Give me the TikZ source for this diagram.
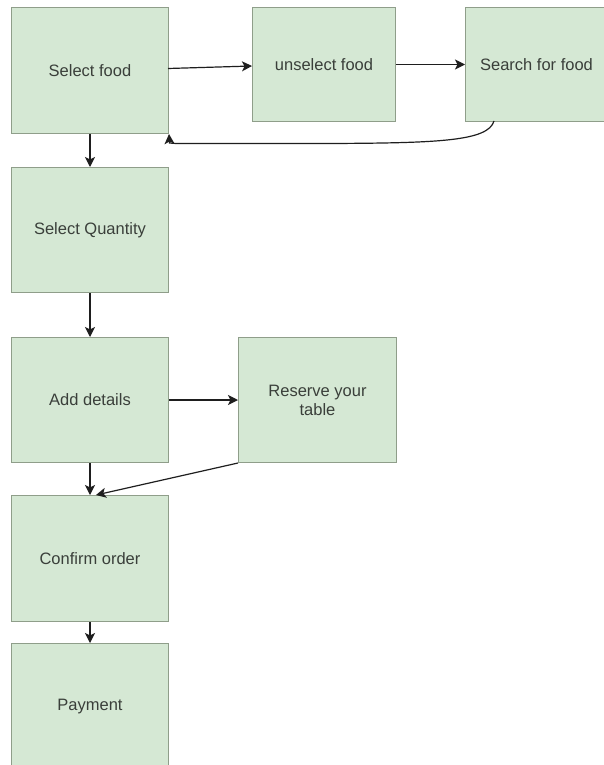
\documentclass[tikz,border=0pt]{standalone}
\usepackage{fontspec}
\setmainfont{Liberation Sans}
\usetikzlibrary{arrows.meta}
\definecolor{boxfill}{HTML}{D5E8D4}
\definecolor{boxline}{HTML}{8F9E8A}
\definecolor{txt}{HTML}{3A3F3A}
\definecolor{wire}{HTML}{1E1E1E}
\begin{document}
\begin{tikzpicture}[x=1pt,y=-1pt,
  stepbox/.style={draw=boxline, line width=1pt, fill=boxfill, anchor=north west,
    inner sep=0pt, align=center, text=txt, font=\fontsize{16.5}{19}\selectfont},
  arr/.style={draw=wire, line width=1.2pt, -{Stealth[length=10pt,width=10pt,inset=2.5pt]}}]
\useasboundingbox (0,0) rectangle (603,765);
\fill[white] (0,0) rectangle (603,765);

% process steps
\node[stepbox, minimum width=157pt, minimum height=126pt] (sel) at (11,7) {Select food};
\node[stepbox, minimum width=143pt, minimum height=114pt] (unsel) at (252,7) {unselect food};
\node[stepbox, minimum width=142pt, minimum height=114pt] (search) at (465,7) {Search for food};
\node[stepbox, minimum width=157pt, minimum height=125pt] (qty) at (11,167) {Select Quantity};
\node[stepbox, minimum width=157pt, minimum height=125pt] (add) at (11,337) {Add details};
\node[stepbox, minimum width=158pt, minimum height=125pt] (res) at (238,337) {Reserve your\\table};
\node[stepbox, minimum width=157pt, minimum height=126pt] (conf) at (11,495) {Confirm order};
\node[stepbox, minimum width=157pt, minimum height=126pt] (pay) at (11,643) {Payment};

% connector end points
\coordinate (selout) at (168,68.5);
\coordinate (unselin) at (252,66);
\coordinate (fb) at (494,121);
\coordinate (fbmid) at (176,143.5);
\coordinate (fbturn) at (169.5,143);
\coordinate (confin) at (96,495);

% flow
\draw[arr] (selout) -- (unselin);
\draw[arr] (unsel.east) -- (search.west);
\draw[arr] (fb) .. controls (488,141) and (440,143) .. (330,143.5) -- (fbmid) -- (fbturn) -- (sel.south east);
\draw[arr] (sel.south) -- (qty.north);
\draw[arr] (qty.south) -- (add.north);
\draw[arr] (add.east) -- (res.west);
\draw[arr] (add.south) -- (conf.north);
\draw[arr] (res.south west) -- (confin);
\draw[arr] (conf.south) -- (pay.north);
\end{tikzpicture}
\end{document}
